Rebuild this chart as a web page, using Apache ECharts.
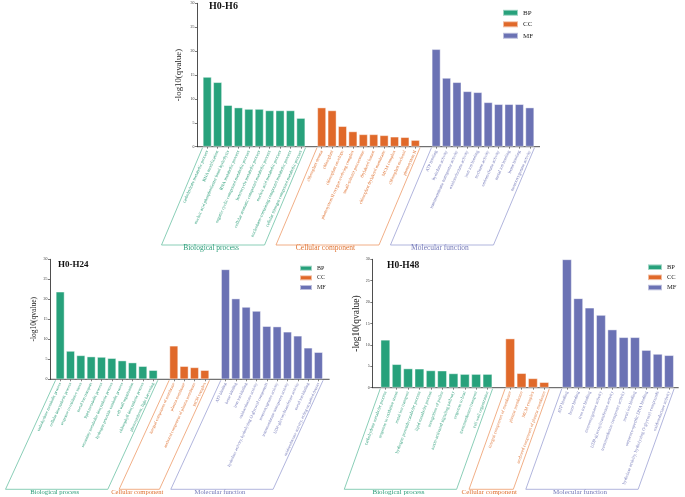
<!DOCTYPE html>
<html><head><meta charset="utf-8">
<script src="https://cdn.jsdelivr.net/npm/echarts@6/dist/echarts.min.js"></script>
<style>html,body{margin:0;padding:0;background:#fff}#c{width:685px;height:497px}</style>
</head><body><div id="c"></div>
<script>
// ---------------- data ----------------
const h6TermsBP = ["carbohydrate metabolic process","RNA modification","nucleic acid phosphodiester bond hydrolysis","RNA metabolic process","organic cyclic compound metabolic process","heterocycle metabolic process","cellular aromatic compound metabolic process","nucleic acid metabolic process","nucleobase-containing compound metabolic process","cellular nitrogen compound metabolic process"];
const h6ValuesBP = [14.6, 13.5, 8.7, 8.2, 7.9, 7.9, 7.6, 7.6, 7.6, 6.0];
const h6TermsCC = ["chloroplast stroma","chloroplast","chloroplast envelope","photosystem II oxygen evolving complex","small-subunit processome","thylakoid lumen","chloroplast thylakoid membrane","MCM complex","chloroplast nucleoid","photosystem II"];
const h6ValuesCC = [8.2, 7.6, 4.3, 3.2, 2.6, 2.6, 2.4, 2.1, 2.0, 1.4];
const h6TermsMF = ["ATP binding","hydrolase activity","transmembrane transporter activity","oxidoreductase activity","iron ion binding","nuclease activity","endonuclease activity","metal ion binding","heme binding","monooxygenase activity"];
const h6ValuesMF = [20.4, 14.4, 13.5, 11.6, 11.4, 9.3, 8.9, 8.9, 8.9, 8.2];

const h24TermsBP = ["carbohydrate metabolic process","cellular biosynthetic process","response to oxidative stress","metal ion transport","lipid metabolic process","secondary metabolite biosynthetic process","hydrogen peroxide catabolic process","cell wall organization","chlorophyll biosynthetic process","photosynthesis, light harvesting"];
const h24ValuesBP = [21.9, 7.1, 6.0, 5.7, 5.6, 5.3, 4.7, 4.2, 3.3, 2.3];
const h24TermsCC = ["integral component of membrane","plasma membrane","anchored component of plasma membrane","MCM complex"];
const h24ValuesCC = [8.4, 3.3, 3.0, 2.3];
const h24TermsMF = ["ATP binding","heme binding","iron ion binding","oxidoreductase activity","hydrolase activity, hydrolyzing O-glycosyl compounds","monooxygenase activity","transmembrane transporter activity","UDP-glycosyltransferase activity","metal ion binding","oxidoreductase activity, acting on paired donors"];
const h24ValuesMF = [27.5, 20.2, 18.1, 17.1, 13.3, 13.2, 11.9, 10.9, 7.9, 6.8];

const h48TermsBP = ["carbohydrate metabolic process","response to oxidative stress","metal ion transport","hydrogen peroxide catabolic process","lipid metabolic process","recognition of pollen","auxin-activated signaling pathway","response to heat","transmembrane transport","cell wall organization"];
const h48ValuesBP = [11.2, 5.5, 4.5, 4.45, 4.05, 4.0, 3.35, 3.2, 3.2, 3.2];
const h48TermsCC = ["integral component of membrane","plasma membrane","MCM complex","anchored component of plasma membrane"];
const h48ValuesCC = [11.5, 3.4, 2.2, 1.3];
const h48TermsMF = ["ATP binding","heme binding","iron ion binding","monooxygenase activity","UDP-glycosyltransferase activity","transmembrane transporter activity","metal ion binding","sequence-specific DNA binding","hydrolase activity, hydrolyzing O-glycosyl compounds","oxidoreductase activity"];
const h48ValuesMF = [30.0, 20.9, 18.7, 17.0, 13.6, 11.8, 11.8, 8.8, 7.9, 7.6];

const panelTitles = ["H0-H6", "H0-H24", "H0-H48"];
const groupNames = ["BP", "CC", "MF"];
const groupLabels = ["Biological process", "Cellular component", "Molecular function"];
const yTickValues = [0, 5, 10, 15, 20, 25, 30];

// ---------------- styles ----------------
const FONT = '"Liberation Serif", "Times New Roman", serif';
const barColors = { BP: '#27A17B', CC: '#E0692A', MF: '#6B72B4' };
const textColors = { BP: '#2A9D78', CC: '#DF7130', MF: '#7378B8' };
const lineColors = { BP: '#6CC2A4', CC: '#EE9A68', MF: '#9DA2D4' };

const panels = [
  { title: panelTitles[0], terms: [h6TermsBP, h6TermsCC, h6TermsMF], values: [h6ValuesBP, h6ValuesCC, h6ValuesMF],
    grid: { left: 202, top: 3.3, width: 333, height: 143.4 }, yOffset: 5, rotate: 66, labelSize: 4.5,
    nameSize: 8.8, nameGap: 14, tick: 4, titleBox: { left: 209, top: 1.5, size: 10 },
    legend: { left: 502, top: 8.8, w: 15, h: 6, fs: 7, gap: 3.5 }, dx: 41, bottom: 245, groupFont: 7.5, ext: 5 },
  { title: panelTitles[1], terms: [h24TermsBP, h24TermsCC, h24TermsMF], values: [h24ValuesBP, h24ValuesCC, h24ValuesMF],
    grid: { left: 55, top: 259.3, width: 268.6, height: 120 }, yOffset: 5, rotate: 65.5, labelSize: 4.2,
    nameSize: 7.5, nameGap: 12, tick: 3.6, titleBox: { left: 58, top: 260.5, size: 9 },
    legend: { left: 299, top: 264.7, w: 12, h: 5, fs: 6, gap: 2.65 }, dx: 50, bottom: 489.3, groupFont: 6.6, ext: 6 },
  { title: panelTitles[2], terms: [h48TermsBP, h48TermsCC, h48TermsMF], values: [h48ValuesBP, h48ValuesCC, h48ValuesMF],
    grid: { left: 379.7, top: 259.3, width: 295, height: 128.4 }, yOffset: 7.4, rotate: 70, labelSize: 4.5,
    nameSize: 9.5, nameGap: 9, tick: 3.8, titleBox: { left: 387, top: 260.7, size: 9.5 },
    legend: { left: 647, top: 263.4, w: 14, h: 5.5, fs: 6.5, gap: 2.7 }, dx: 36, bottom: 489.3, groupFont: 7, ext: 4 }
];

// build categories with an empty slot between groups
panels.forEach(p => {
  const cats = [], grp = [], segs = [];
  p.terms.forEach((t, gi) => {
    if (gi > 0) { cats.push(''); grp.push(null); }
    const s = cats.length;
    t.forEach(x => { cats.push(x); grp.push(groupNames[gi]); });
    segs.push([s, cats.length - 1]);
  });
  p.cats = cats; p.grp = grp; p.segs = segs;
});

const option = {
  animation: false,
  backgroundColor: '#fff',
  title: panels.map(p => ({
    text: p.title, left: p.titleBox.left, top: p.titleBox.top, padding: 0,
    textStyle: { fontFamily: FONT, fontSize: p.titleBox.size, fontWeight: 'bold', color: '#111' }
  })),
  legend: panels.map(p => ({
    data: groupNames, orient: 'vertical', left: p.legend.left, top: p.legend.top, padding: 0,
    itemWidth: p.legend.w, itemHeight: p.legend.h, itemGap: p.legend.gap, icon: 'rect', selectedMode: false,
    textStyle: { fontFamily: FONT, fontSize: p.legend.fs, color: '#222' }
  })),
  grid: panels.map(p => Object.assign({ containLabel: false, outerBoundsMode: 'none' }, p.grid)),
  xAxis: panels.map((p, i) => ({
    type: 'category', gridIndex: i, data: p.cats, boundaryGap: true,
    axisLine: { show: false },
    axisTick: { show: true, alignWithLabel: true, length: 2, interval: (idx, val) => val !== '',
      lineStyle: { color: '#333', width: 0.6 } },
    axisLabel: { interval: 0, rotate: p.rotate, fontSize: p.labelSize, fontFamily: FONT, margin: p.tick,
      color: (val, idx) => textColors[p.grp[idx]] || '#000' }
  })),
  yAxis: panels.map((p, i) => ({
    type: 'value', gridIndex: i, min: yTickValues[0], max: yTickValues[yTickValues.length - 1], interval: 5, offset: p.yOffset,
    axisLine: { show: true, lineStyle: { color: '#222', width: 0.8 } },
    axisTick: { show: true, length: 2, lineStyle: { color: '#222', width: 0.6 } },
    axisLabel: { fontSize: 4, margin: 2.5, color: '#333', fontFamily: FONT },
    splitLine: { show: false },
    name: '-log10(qvalue)', nameLocation: 'middle', nameGap: p.nameGap,
    nameTextStyle: { fontFamily: FONT, fontSize: p.nameSize, color: '#222' }
  })),
  series: []
};

panels.forEach((p, i) => {
  groupNames.forEach((g, gi) => {
    const data = p.cats.map(() => null);
    const [s] = p.segs[gi];
    p.values[gi].forEach((v, k) => { data[s + k] = v; });
    option.series.push({
      type: 'bar', name: g, xAxisIndex: i, yAxisIndex: i, stack: 'panel' + i, data,
      barCategoryGap: '15%',
      itemStyle: { color: barColors[g], borderColor: 'rgba(255,255,255,0.55)', borderWidth: 0.8 },
      emphasis: { disabled: true }, silent: true
    });
  });
});

const chart = echarts.init(document.getElementById('c'), null, { renderer: 'canvas' });
chart.setOption(option);

// decorative group brackets and axis lines, positioned from the axis scales
const graphics = [];
panels.forEach((p, i) => {
  const p0 = chart.convertToPixel({ gridIndex: i }, [0, 0]);
  const p1 = chart.convertToPixel({ gridIndex: i }, [1, 0]);
  const slot = p1[0] - p0[0];
  const axisY = p0[1];
  const yAxisX = p.grid.left - p.yOffset;
  const gridRight = p.grid.left + p.grid.width;
  graphics.push({ type: 'line', silent: true, shape: { x1: yAxisX, y1: axisY, x2: gridRight + p.ext, y2: axisY },
    style: { stroke: '#222', lineWidth: 0.8 } });
  p.segs.forEach((seg, gi) => {
    const g = groupNames[gi];
    const xa = chart.convertToPixel({ gridIndex: i }, [seg[0], 0])[0] - slot * 0.45;
    const xb = chart.convertToPixel({ gridIndex: i }, [seg[1], 0])[0] + slot * 0.45;
    graphics.push({ type: 'polyline', silent: true,
      shape: { points: [[xa, axisY + 1], [xa - p.dx, p.bottom], [xb - p.dx, p.bottom], [xb, axisY + 1]] },
      style: { stroke: lineColors[g], lineWidth: 0.8, fill: null } });
    graphics.push({ type: 'text', silent: true,
      style: { text: groupLabels[gi], x: (xa + xb) / 2 - p.dx - 2, y: p.bottom + 3.2,
        fill: textColors[g], fontFamily: FONT, fontSize: p.groupFont,
        align: 'center', verticalAlign: 'middle', textAlign: 'center', textVerticalAlign: 'middle' } });
  });
});
chart.setOption({ graphic: graphics });
</script>
</body></html>
